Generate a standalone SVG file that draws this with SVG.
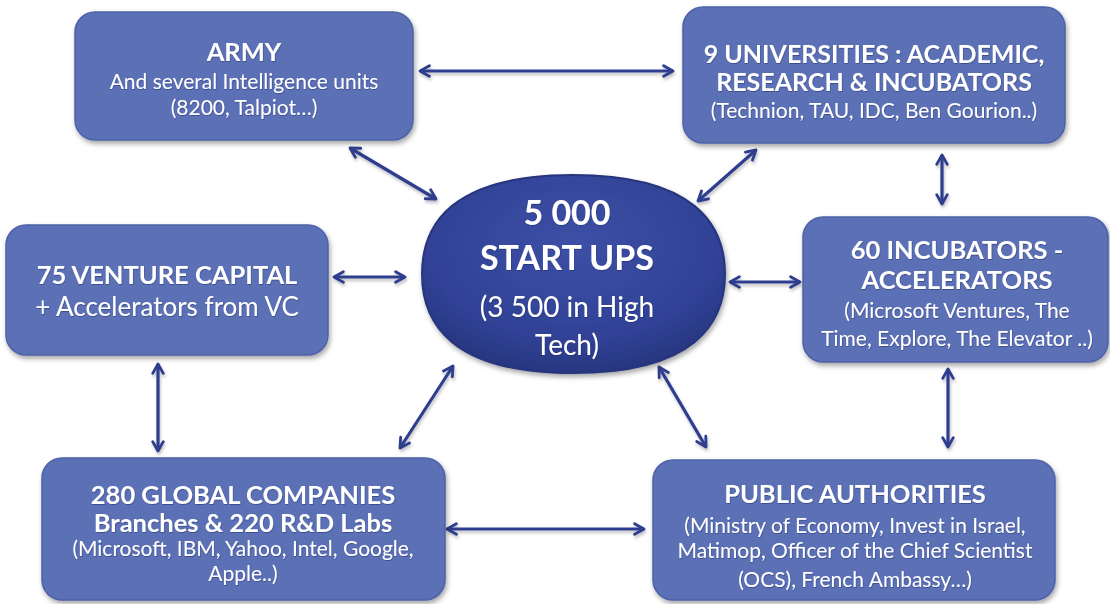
<svg xmlns="http://www.w3.org/2000/svg" width="1110" height="604" viewBox="0 0 1110 604">
  <defs>
    <style>
      .box { fill: #5b70b6; stroke: #4d62a8; stroke-width: 1.5; filter: url(#shadow); }
      .hub { fill: url(#hubFill); stroke: #27357c; stroke-width: 2; filter: url(#shadow); }
      text { font-family: "Lato", "Liberation Sans", sans-serif; fill: #ffffff; text-anchor: middle; filter: url(#glow); }
      .h { font-weight: bold; font-size: 25.5px; }
      .s { font-size: 21px; }
      .hubH { font-weight: bold; font-size: 34px; }
      .hubS { font-size: 28px; }
      .link { stroke: #2f3e8e; stroke-width: 3.2; fill: none; marker-start: url(#tip); marker-end: url(#tip); filter: url(#lineShadow); }
    </style>
    <radialGradient id="hubFill" cx="0.5" cy="0.35" r="0.65">
      <stop offset="0" stop-color="#3d50a6"/>
      <stop offset="0.75" stop-color="#304195"/>
      <stop offset="1" stop-color="#283680"/>
    </radialGradient>
    <filter id="shadow" x="-10%" y="-10%" width="125%" height="130%">
      <feDropShadow dx="1.5" dy="3" stdDeviation="2.5" flood-color="#000" flood-opacity="0.35"/>
    </filter>
    <!-- user-space region so straight horizontal/vertical lines still render -->
    <filter id="lineShadow" filterUnits="userSpaceOnUse" x="0" y="0" width="1110" height="604">
      <feDropShadow dx="1" dy="2.5" stdDeviation="1.5" flood-color="#000" flood-opacity="0.25"/>
    </filter>
    <filter id="glow" x="-5%" y="-20%" width="110%" height="140%">
      <feDropShadow dx="0.5" dy="1" stdDeviation="0.6" flood-color="#1d2860" flood-opacity="0.45"/>
    </filter>
    <marker id="tip" viewBox="0 0 12 12" refX="10" refY="6" markerWidth="4.4" markerHeight="4.4" orient="auto-start-reverse" markerUnits="strokeWidth">
      <path d="M2 1.5 L10 6 L2 10.5" fill="none" stroke="#2f3e8e" stroke-width="2.4" stroke-linecap="round" stroke-linejoin="round"/>
    </marker>
  </defs>

  <rect width="1110" height="604" fill="#ffffff"/>

  <!-- connectors -->
  <g id="connectors">
    <line class="link" x1="420" y1="71" x2="673" y2="71"/>
    <line class="link" x1="350" y1="148" x2="436" y2="199"/>
    <line class="link" x1="756" y1="150" x2="698" y2="201"/>
    <line class="link" x1="942" y1="155" x2="942" y2="204"/>
    <line class="link" x1="334" y1="277" x2="405" y2="277"/>
    <line class="link" x1="730" y1="282" x2="800" y2="282"/>
    <line class="link" x1="158" y1="364" x2="158" y2="451"/>
    <line class="link" x1="453" y1="366" x2="400" y2="448"/>
    <line class="link" x1="659" y1="367" x2="706" y2="447"/>
    <line class="link" x1="948" y1="369" x2="948" y2="447"/>
    <line class="link" x1="447" y1="529" x2="644" y2="529"/>
  </g>

  <g id="army">
    <rect class="box" x="75" y="12" width="338" height="128" rx="20"/>
    <text class="h" x="244" y="61">ARMY</text>
    <text class="s" x="244" y="89">And several Intelligence units</text>
    <text class="s" x="244" y="115">(8200, Talpiot…)</text>
  </g>

  <g id="universities">
    <rect class="box" x="683" y="7" width="382" height="136" rx="20"/>
    <text class="h" x="874" y="63" style="font-size:25px">9 UNIVERSITIES : ACADEMIC,</text>
    <text class="h" x="874" y="91" style="font-size:25px">RESEARCH &amp; INCUBATORS</text>
    <text class="s" x="874" y="118">(Technion, TAU, IDC, Ben Gourion..)</text>
  </g>

  <g id="venture-capital">
    <rect class="box" x="6" y="225" width="322" height="130" rx="20"/>
    <text class="h" x="167" y="284">75 VENTURE CAPITAL</text>
    <text class="s" x="167" y="316" style="font-size:26px">+ Accelerators from VC</text>
  </g>

  <g id="incubators">
    <rect class="box" x="803" y="217" width="305" height="145" rx="20"/>
    <text class="h" x="957" y="259">60 INCUBATORS -</text>
    <text class="h" x="957" y="289">ACCELERATORS</text>
    <text class="s" x="957" y="318">(Microsoft Ventures, The</text>
    <text class="s" x="957" y="346">Time, Explore, The Elevator ..)</text>
  </g>

  <g id="global-companies">
    <rect class="box" x="42" y="458" width="403" height="142" rx="20"/>
    <text class="h" x="243" y="504">280 GLOBAL COMPANIES</text>
    <text class="h" x="243" y="532">Branches &amp; 220 R&amp;D Labs</text>
    <text class="s" x="243" y="556">(Microsoft, IBM, Yahoo, Intel, Google,</text>
    <text class="s" x="243" y="581">Apple..)</text>
  </g>

  <g id="public-authorities">
    <rect class="box" x="653" y="460" width="402" height="140" rx="20"/>
    <text class="h" x="855" y="503">PUBLIC AUTHORITIES</text>
    <text class="s" x="855" y="533">(Ministry of Economy, Invest in Israel,</text>
    <text class="s" x="855" y="558">Matimop, Officer of the Chief Scientist</text>
    <text class="s" x="855" y="587">(OCS), French Ambassy…)</text>
  </g>

  <g id="startups">
    <path class="hub" d="M573 175 C695 175 725 225 725 274 C725 323 695 373 573 373 C451 373 422 323 422 274 C422 225 451 175 573 175 Z"/>
    <text class="hubH" x="567" y="225">5 000</text>
    <text class="hubH" x="567" y="270">START UPS</text>
    <text class="hubS" x="567" y="317">(3 500 in High</text>
    <text class="hubS" x="567" y="355">Tech)</text>
  </g>
</svg>
